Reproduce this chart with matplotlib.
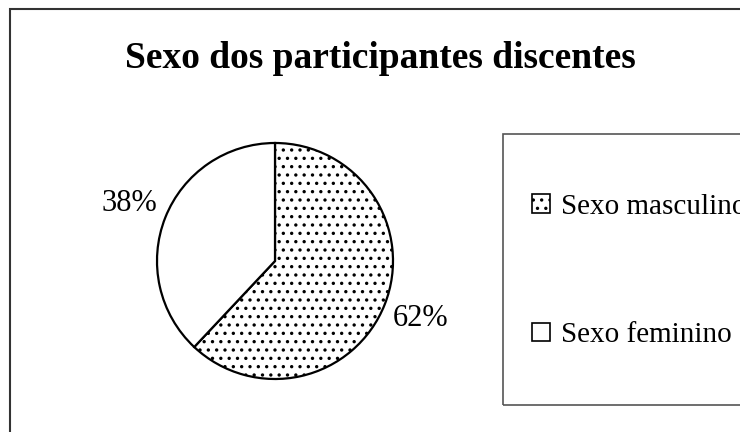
import matplotlib
matplotlib.use("Agg")
import matplotlib.pyplot as plt
from matplotlib.patches import Rectangle, Patch

# data
categories = ["Sexo masculino", "Sexo feminino"]
shares = [62, 38]
hatches = ["..", ""]
title = "Sexo dos participantes discentes"

plt.rcParams["font.family"] = ["Liberation Serif", "DejaVu Serif"]
plt.rcParams["hatch.linewidth"] = 1.2

fig = plt.figure(figsize=(7.4, 4.32), dpi=100)
W, H = 740, 432

# outer chart frame (runs off right and bottom edges)
fig.patches.append(Rectangle((10 / W, -0.2), 1.2, (H - 9) / H + 0.2,
                             transform=fig.transFigure, fill=False,
                             edgecolor="#333333", linewidth=1.5))

ax = fig.add_axes([0, 0, 1, 1])
wedges, texts, autotexts = ax.pie(
    shares, startangle=90, counterclock=False,
    colors=["white", "white"], center=(275, H - 261), radius=118,
    autopct="%d%%", pctdistance=1.33,
    wedgeprops=dict(edgecolor="black", linewidth=1.6),
    textprops=dict(fontsize=22))
for w, h in zip(wedges, hatches):
    w.set_hatch(h)
ax.set_xlim(0, W)
ax.set_ylim(0, H)
ax.set_aspect("equal")
ax.axis("off")

fig.text(380 / W, (H - 58) / H, title, ha="center", va="center",
         fontsize=27, fontweight="bold")

# legend box
fig.patches.append(Rectangle((503 / W, (H - 405) / H), 0.5, (405 - 134) / H,
                             transform=fig.transFigure, fill=False,
                             edgecolor="#555555", linewidth=1.2))
handles = [Patch(facecolor="white", edgecolor="black", hatch=h, linewidth=1.2)
           for h in hatches]
fig.legend(handles, categories, loc="center left",
           bbox_to_anchor=(532 / W, (H - 271) / H), frameon=False,
           fontsize=21, handlelength=0.6, handleheight=0.6,
           handletextpad=0.4, labelspacing=3.5, borderpad=0, borderaxespad=0)

fig.savefig("out.png", dpi=100)
